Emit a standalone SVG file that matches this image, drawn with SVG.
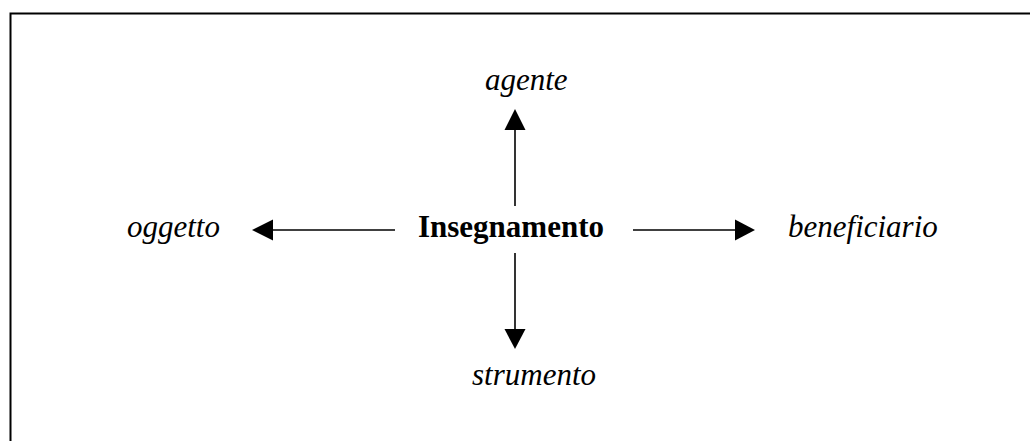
<svg xmlns="http://www.w3.org/2000/svg" width="1030" height="441" viewBox="0 0 1030 441">
<style>
.lbl{font-family:"Liberation Serif","Times New Roman",serif;font-size:31px;font-style:italic;fill:#000}
.main{font-family:"Liberation Serif","Times New Roman",serif;font-size:31px;font-weight:bold;fill:#000}
.conn{stroke:#000;stroke-width:1.6;fill:none}
.head{fill:#000}
</style>
<rect x="0" y="0" width="1030" height="441" fill="#fff"/>
<path d="M10.5 441 V13.5 H1030" fill="none" stroke="#000" stroke-width="2"/>
<g id="node-insegnamento"><text class="main" x="418" y="237" textLength="186" lengthAdjust="spacingAndGlyphs">Insegnamento</text></g>
<g id="node-agente"><text class="lbl" x="485" y="90">agente</text></g>
<g id="node-oggetto"><text class="lbl" x="127" y="237">oggetto</text></g>
<g id="node-beneficiario"><text class="lbl" x="788" y="237">beneficiario</text></g>
<g id="node-strumento"><text class="lbl" x="472" y="385">strumento</text></g>
<g id="connectors">
<line class="conn" x1="515" y1="206" x2="515" y2="128"/>
<polygon class="head" points="515,109 504.5,130 525.5,130"/>
<line class="conn" x1="515" y1="253" x2="515" y2="331"/>
<polygon class="head" points="515,349 504.5,329 525.5,329"/>
<line class="conn" x1="395" y1="230" x2="271" y2="230"/>
<polygon class="head" points="252,230 273,219.5 273,240.5"/>
<line class="conn" x1="633" y1="230" x2="737" y2="230"/>
<polygon class="head" points="755,230 735,219.5 735,240.5"/>
</g>
</svg>
